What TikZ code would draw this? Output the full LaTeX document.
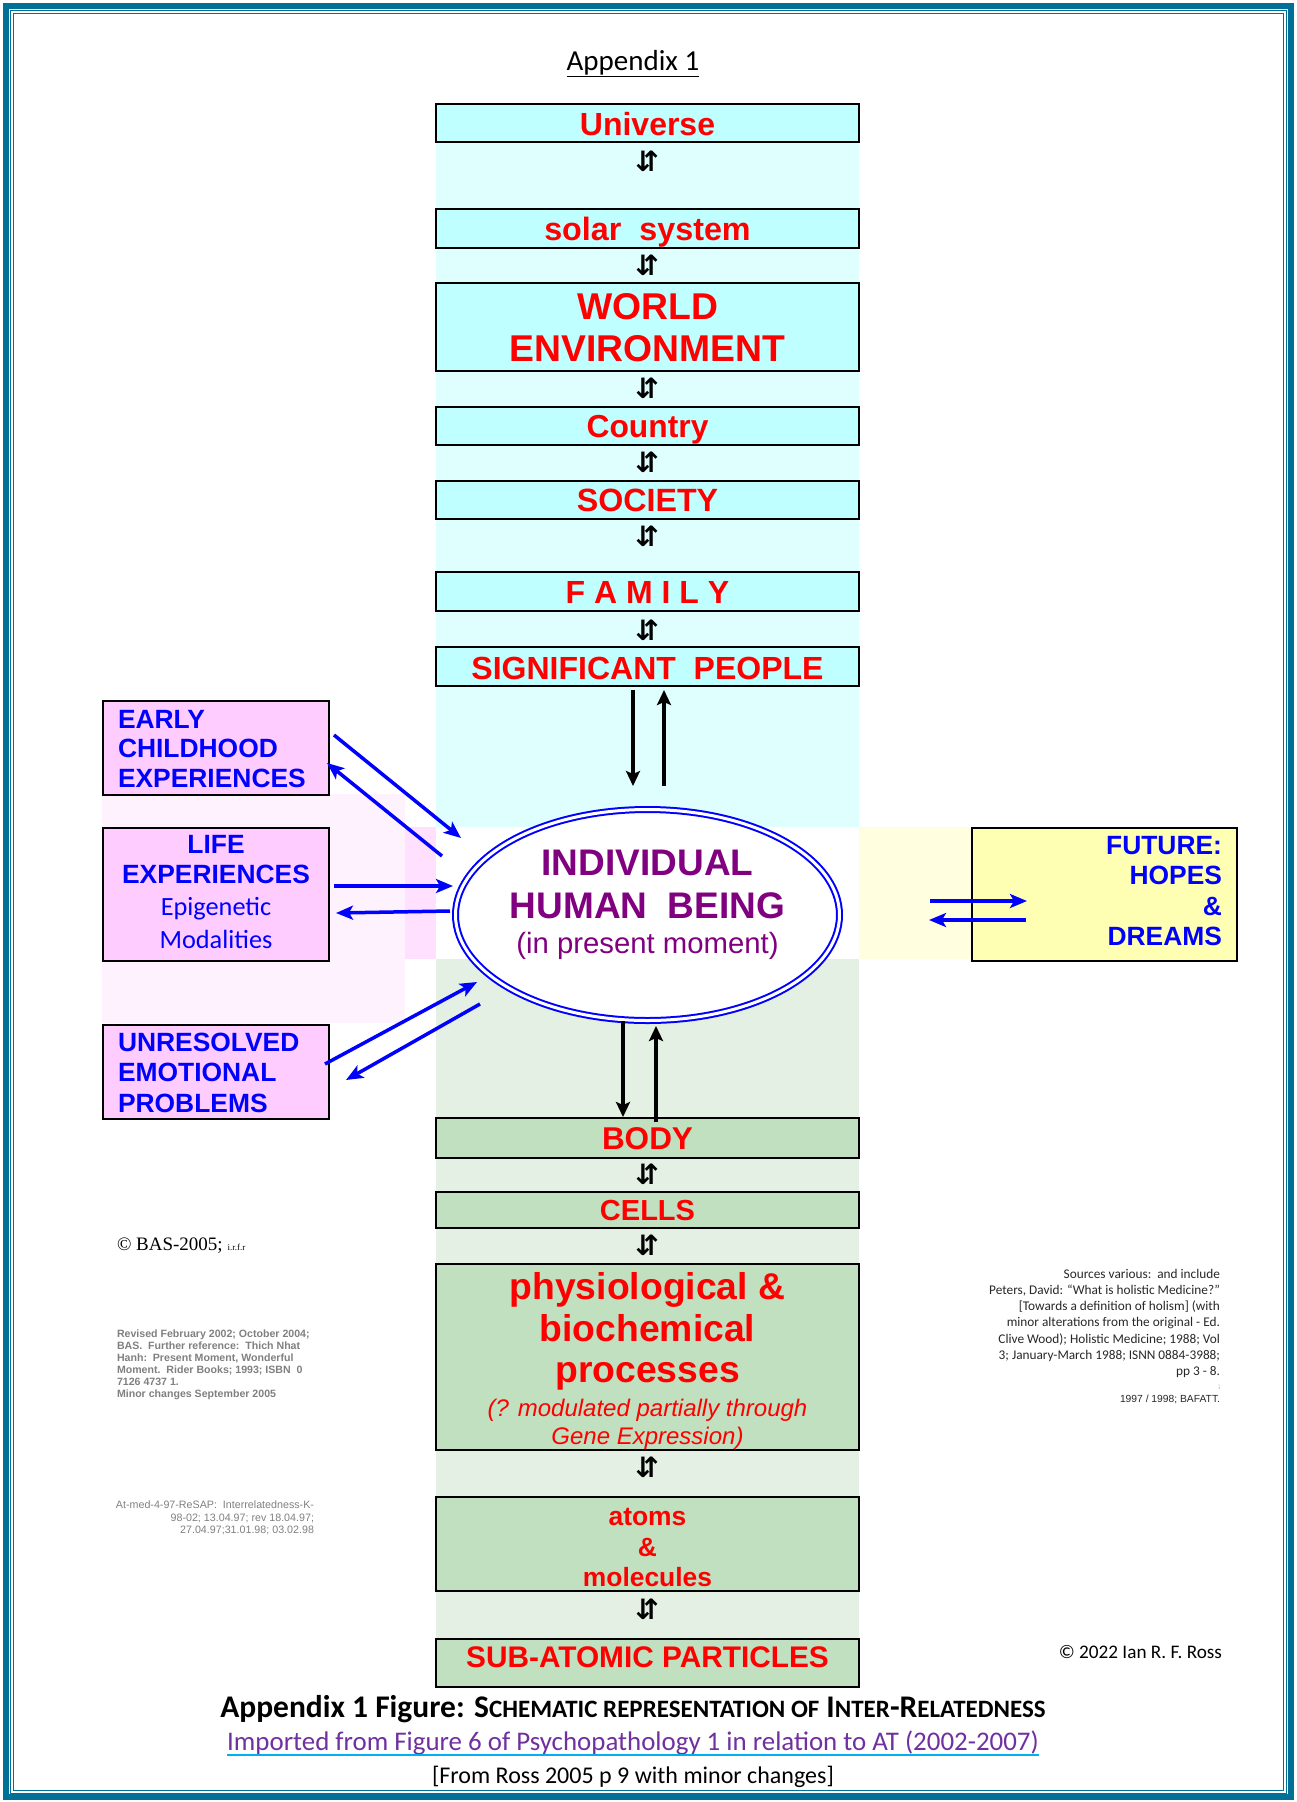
\documentclass[tikz,border=0pt]{standalone}
\usepackage{fontspec}
\setmainfont{Liberation Sans}
\newfontfamily\carl{Carlito}
\newfontfamily\tnr{Liberation Serif}
\newfontfamily\djv{DejaVu Sans}
\usetikzlibrary{arrows.meta,shapes.geometric}
\definecolor{framecol}{RGB}{0,112,150}
\definecolor{cyanbox}{RGB}{191,255,255}
\definecolor{cyanbg}{RGB}{223,255,255}
\definecolor{greenbox}{RGB}{192,224,192}
\definecolor{greenbg}{RGB}{227,240,227}
\definecolor{pinkbox}{RGB}{255,204,255}
\definecolor{pinkbg}{RGB}{255,242,255}
\definecolor{pinkstrip}{RGB}{255,224,255}
\definecolor{yelbox}{RGB}{255,255,179}
\definecolor{yelbg}{RGB}{255,255,224}
\definecolor{indpurple}{RGB}{128,0,128}
\definecolor{imppurple}{RGB}{112,48,160}
\definecolor{ulcyan}{RGB}{0,176,240}
\definecolor{graytxt}{RGB}{128,128,128}
\definecolor{darktxt}{RGB}{40,40,40}
\newcommand{\fsz}[1]{\fontsize{#1}{#1}\selectfont}
\newcommand{\smc}[1]{{\fontsize{25}{25}\selectfont #1}}
\begin{document}
\begin{tikzpicture}[x=1pt,y=-1pt,
  every node/.style={inner sep=0pt,outer sep=0pt},
  cbox/.style={draw=black,line width=2pt,fill=cyanbox,minimum width=423pt},
  gbox/.style={draw=black,line width=2pt,fill=greenbox,minimum width=423pt},
  pbox/.style={draw=black,line width=2pt,fill=pinkbox,minimum width=226pt},
  ybox/.style={draw=black,line width=2pt,fill=yelbox,minimum width=265pt},
  rtxt/.style={anchor=base,text=red,font={\bfseries\fsz{#1}}},
  btxt/.style={text=blue,font={\bfseries\fsz{26.4}}},
  ctxt/.style={anchor=base,text=blue,font={\carl\fsz{26.3}}},
  ptxt/.style={anchor=base,text=indpurple,font={\bfseries\fsz{37}}},
  updn/.style={font={\djv\bfseries\fsz{28}}},
  barrow/.style={draw=blue,line width=3.5pt,-{Stealth[length=17pt,width=14pt,inset=4pt]}},
  karrow/.style={draw=black,line width=3.5pt,-{Stealth[length=15pt,width=14pt,inset=3pt]}}]
\useasboundingbox (0,0) rectangle (1297,1802);
\fill[white] (0,0) rectangle (1297,1802);
% background bands
\fill[cyanbg] (436,104) rectangle (859,827);
\fill[greenbg] (436,959) rectangle (859,1687);
\fill[pinkbg] (102,794) rectangle (405,1023);
\fill[pinkstrip] (405,827) rectangle (436,959);
\fill[yelbg] (859,827) rectangle (972,959);
% frame
\draw[framecol,line width=6pt] (5.8,6) rectangle (1290.5,1797);
\draw[framecol,line width=1pt] (10,10.5) rectangle (1286,1793);
\draw[framecol,line width=1pt] (13,13.5) rectangle (1283,1790);
% title
\node[anchor=base,font={\carl\fsz{29}}] (apx) at (633,70) {\underline{Appendix 1}};
% upper column
\node[cbox,minimum height=38pt] (uni) at (647.5,123) {};
\node[rtxt=32] (tuni) at (647.5,135) {Universe};
\node[updn] (g1) at (647,161) {⇵};
\node[cbox,minimum height=39pt] (sol) at (647.5,228.5) {};
\node[rtxt=32.3] (tsol) at (647.5,240) {solar\ \ system};
\node[updn] (g2) at (647,265) {⇵};
\node[cbox,minimum height=88pt] (wor) at (647.5,327) {};
\node[rtxt=37.3] (twor1) at (647.5,319) {WORLD};
\node[rtxt=37.3] (twor2) at (647.5,361) {ENVIRONMENT};
\node[updn] (g3) at (647,388) {⇵};
\node[cbox,minimum height=38pt] (cty) at (647.5,426) {};
\node[rtxt=31.8] (tcty) at (647.5,437) {Country};
\node[updn] (g4) at (647,462) {⇵};
\node[cbox,minimum height=38pt] (soc) at (647.5,500) {};
\node[rtxt=32.2] (tsoc) at (647.5,511.5) {SOCIETY};
\node[updn] (g5) at (647,536) {⇵};
\node[cbox,minimum height=39pt] (fam) at (647.5,591.5) {};
\node[rtxt=32] (tfam) at (647.5,603) {F A M I L Y};
\node[updn] (g6) at (647,630) {⇵};
\node[cbox,minimum height=39pt] (sig) at (647.5,666.5) {};
\node[rtxt=32] (tsig) at (647.5,679) {SIGNIFICANT\ \ PEOPLE};
% individual
\node[ellipse,draw=blue,double=white,double distance=3pt,line width=2pt,fill=white,minimum width=384pt,minimum height=211pt] (ind) at (647.5,915) {};
\node[ptxt] (tind1) at (647.5,875) {INDIVIDUAL};
\node[ptxt] (tind2) at (647.5,918) {HUMAN\ \ BEING};
\node[anchor=base,text=indpurple,font={\fsz{29.3}}] (tind3) at (647.5,953) {(in present moment)};
% lower column
\node[gbox,minimum height=40pt] (bod) at (647.5,1138) {};
\node[rtxt=31.5] (tbod) at (647.5,1149) {BODY};
\node[updn] (g7) at (647,1174) {⇵};
\node[gbox,minimum height=36pt] (cel) at (647.5,1210) {};
\node[rtxt=29] (tcel) at (647.5,1220.5) {CELLS};
\node[updn] (g8) at (647,1245) {⇵};
\node[gbox,minimum height=186pt] (phy) at (647.5,1357) {};
\node[rtxt=37.3] (tphy1) at (647.5,1299) {physiological \&};
\node[rtxt=37.3] (tphy2) at (647.5,1341) {biochemical};
\node[rtxt=37.3] (tphy3) at (647.5,1382) {processes};
\node[anchor=base,text=red,font={\itshape\fsz{24}}] (tphy4) at (647.5,1416) {(? modulated partially through};
\node[anchor=base,text=red,font={\itshape\fsz{24}}] (tphy5) at (647.5,1444) {Gene Expression)};
\node[updn] (g9) at (647,1467) {⇵};
\node[gbox,minimum height=94pt] (atm) at (647.5,1544) {};
\node[rtxt=26.4] (tatm1) at (647.5,1525) {atoms};
\node[rtxt=26.4] (tatm2) at (647.5,1556) {\&};
\node[rtxt=26.4] (tatm3) at (647.5,1586) {molecules};
\node[updn] (g10) at (647,1609) {⇵};
\node[gbox,minimum height=48pt] (sub) at (647.5,1663) {};
\node[rtxt=29.8] (tsub) at (647.5,1667.5) {SUB-ATOMIC PARTICLES};
% left boxes
\node[pbox,minimum height=94pt] (ear) at (216,748) {};
\node[btxt,anchor=base west] (tear1) at (118,728) {EARLY};
\node[btxt,anchor=base west] (tear2) at (118,757) {CHILDHOOD};
\node[btxt,anchor=base west] (tear3) at (118,787) {EXPERIENCES};
\node[pbox,minimum height=133pt] (lif) at (216,894.5) {};
\node[btxt,anchor=base] (tlif1) at (216,853) {LIFE};
\node[btxt,anchor=base] (tlif2) at (216,883) {EXPERIENCES};
\node[ctxt] (tlif3) at (216,915) {Epigenetic};
\node[ctxt] (tlif4) at (216,948) {Modalities};
\node[pbox,minimum height=94pt] (unr) at (216,1072) {};
\node[btxt,anchor=base west] (tunr1) at (118,1051) {UNRESOLVED};
\node[btxt,anchor=base west] (tunr2) at (118,1081) {EMOTIONAL};
\node[btxt,anchor=base west] (tunr3) at (118,1112) {PROBLEMS};
% right box
\node[ybox,minimum height=133pt] (fut) at (1104.5,894.5) {};
\node[btxt,anchor=base east] (tfut1) at (1222,854) {FUTURE:};
\node[btxt,anchor=base east] (tfut2) at (1222,884) {HOPES};
\node[btxt,anchor=base east] (tfut3) at (1222,915) {\&};
\node[btxt,anchor=base east] (tfut4) at (1222,945) {DREAMS};
% connector end points
\coordinate (sgd0) at (633,690); \coordinate (sgd1) at (633,786);
\coordinate (sgu0) at (664,786); \coordinate (sgu1) at (664,690);
\coordinate (bdd0) at (623,1021); \coordinate (bdd1) at (623,1117);
\coordinate (bdu0) at (656,1122); \coordinate (bdu1) at (656,1026);
\coordinate (ea0) at (334,735); \coordinate (ea1) at (461,838);
\coordinate (eb0) at (442,856); \coordinate (eb1) at (327,763);
\coordinate (la0) at (334,886); \coordinate (la1) at (453,886);
\coordinate (lb0) at (450,911); \coordinate (lb1) at (336,913);
\coordinate (ua0) at (325,1064); \coordinate (ua1) at (477,982);
\coordinate (ub0) at (480,1004); \coordinate (ub1) at (346,1080);
\coordinate (fa0) at (930,901); \coordinate (fa1) at (1027,901);
\coordinate (fb0) at (1026,920); \coordinate (fb1) at (929,920);
% connectors
\draw[karrow] (sgd0) -- (sgd1);
\draw[karrow] (sgu0) -- (sgu1);
\draw[karrow] (bdd0) -- (bdd1);
\draw[karrow] (bdu0) -- (bdu1);
\draw[barrow] (ea0) -- (ea1);
\draw[barrow] (eb0) -- (eb1);
\draw[barrow] (la0) -- (la1);
\draw[barrow] (lb0) -- (lb1);
\draw[barrow] (ua0) -- (ua1);
\draw[barrow] (ub0) -- (ub1);
\draw[barrow] (fa0) -- (fa1);
\draw[barrow] (fb0) -- (fb1);
% side notes
\node[anchor=base west,font={\tnr\fsz{19}}] (bas) at (117,1250) {© BAS-2005; {\fsz{9}i.r.f.r}};
\node[anchor=north west,align=left,text=graytxt,font={\bfseries\fontsize{10.6}{12}\selectfont}] (rev) at (117,1329.5) {Revised February 2002; October 2004;\\BAS.\ \ Further reference:\ \ Thich Nhat\\Hanh:\ \ Present Moment, Wonderful\\Moment.\ \ Rider Books; 1993; ISBN\ \ 0\\7126 4737 1.\\Minor changes September 2005};
\node[anchor=north east,align=right,text=graytxt,font={\fontsize{10.7}{12.4}\selectfont}] (atmed) at (314,1501) {At-med-4-97-ReSAP:\ \ Interrelatedness-K-\\98-02; 13.04.97; rev 18.04.97;\\27.04.97;31.01.98; 03.02.98};
\node[anchor=north east,align=right,text=darktxt,font={\carl\fontsize{13.3}{16.2}\selectfont}] (src) at (1220,1269) {Sources various:\ \ and include\\Peters, David: “What is holistic Medicine?”\\{}[Towards a definition of holism] (with\\minor alterations from the original - Ed.\\Clive Wood); Holistic Medicine; 1988; Vol\\3; January-March 1988; ISNN 0884-3988;\\pp 3 - 8.};
\node[anchor=base east,text=darktxt,font={\fsz{6}}] (semi) at (1220,1388) {;};
\node[anchor=base east,text=darktxt,font={\fsz{10.3}}] (baf) at (1220,1402) {1997 / 1998; BAFATT.};
\node[anchor=base east,font={\carl\fsz{19.2}}] (copy) at (1222,1658) {© 2022 Ian R. F. Ross};
% caption
\node[anchor=base,font={\carl\bfseries\fsz{31.5}}] (cap1) at (633,1717) {Appendix 1 Figure: S\smc{CHEMATIC REPRESENTATION OF} I\smc{NTER}-R\smc{ELATEDNESS}};
\node[anchor=base,text=imppurple,font={\carl\fsz{26.9}}] (cap2) at (633,1750) {Imported from Figure 6 of Psychopathology 1 in relation to AT (2002-2007)};
\draw[ulcyan,line width=2pt] ([yshift=-4.5pt]cap2.base west) -- ([yshift=-4.5pt]cap2.base east);
\node[anchor=base,font={\carl\fsz{24}}] (cap3) at (633,1783) {[From Ross 2005 p 9 with minor changes]};
\end{tikzpicture}
\end{document}
